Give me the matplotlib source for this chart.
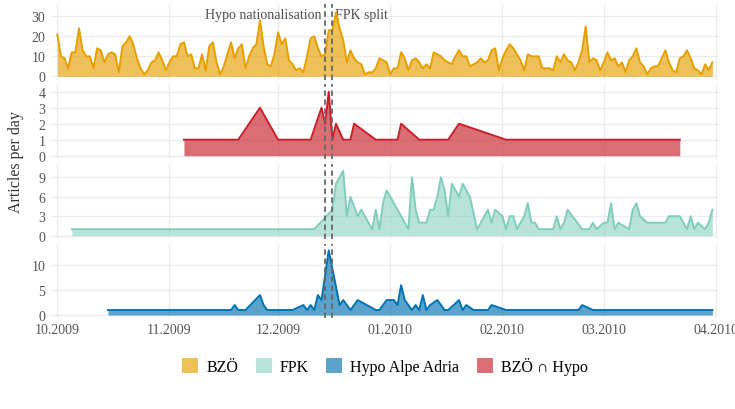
import pandas as pd
import matplotlib
matplotlib.use('Agg')
import matplotlib.pyplot as plt
import matplotlib.dates as mdates
from matplotlib.patches import Patch

plt.rcParams['font.family'] = ['Liberation Serif', 'DejaVu Serif']

# BZÖ: daily article counts from 1 Oct 2009 to 31 Mar 2010
bzoe_start = '2009-10-01'
bzoe_values = [21, 10, 9, 4, 12, 12, 24, 13, 10, 10, 4, 14, 13, 7, 11, 12, 11, 2, 15, 17,
               20, 16, 9, 4, 1, 3, 7, 8, 12, 8, 3, 7, 10, 10, 16, 17, 10, 11, 4, 4,
               11, 3, 15, 17, 7, 1, 5, 11, 17, 9, 14, 16, 4, 10, 14, 16, 28, 15, 6, 5,
               11, 22, 16, 19, 8, 6, 3, 4, 2, 10, 19, 20, 14, 10, 11, 23, 23, 32, 24, 18,
               7, 13, 9, 7, 6, 1, 2, 2, 4, 9, 8, 7, 1, 4, 4, 12, 9, 3, 8, 9,
               7, 4, 6, 4, 12, 11, 10, 8, 7, 6, 10, 13, 10, 10, 5, 6, 7, 9, 7, 8,
               13, 14, 3, 9, 13, 16, 14, 11, 8, 3, 11, 10, 10, 10, 4, 4, 4, 3, 10, 7,
               11, 8, 7, 3, 7, 13, 25, 7, 9, 8, 3, 7, 12, 8, 9, 5, 7, 2, 8, 10,
               14, 7, 5, 1, 4, 5, 5, 9, 13, 7, 3, 2, 9, 10, 13, 9, 4, 3, 1, 6,
               3, 7]

# BZÖ ∩ Hypo
both_dates = ['2009-11-05', '2009-11-20', '2009-11-26', '2009-12-01', '2009-12-10',
              '2009-12-13', '2009-12-14', '2009-12-15', '2009-12-16', '2009-12-17',
              '2009-12-19', '2009-12-21', '2009-12-22', '2009-12-28', '2010-01-03',
              '2010-01-04', '2010-01-09', '2010-01-17', '2010-01-20', '2010-02-02',
              '2010-03-22']
both_values = [1, 1, 3, 1, 1, 3, 2, 4, 1, 2, 1, 1, 2, 1, 1, 2, 1, 1, 2, 1, 1]

# FPK
fpk_dates = ['2009-10-05', '2009-12-11', '2009-12-16', '2009-12-17', '2009-12-19',
             '2009-12-20', '2009-12-21', '2009-12-23', '2009-12-24', '2009-12-27',
             '2009-12-28', '2009-12-29', '2009-12-30', '2009-12-31', '2010-01-06',
             '2010-01-07', '2010-01-08', '2010-01-09', '2010-01-11', '2010-01-12',
             '2010-01-13', '2010-01-14', '2010-01-15', '2010-01-16', '2010-01-17',
             '2010-01-18', '2010-01-20', '2010-01-21', '2010-01-23', '2010-01-25',
             '2010-01-28', '2010-01-29', '2010-01-30', '2010-02-01', '2010-02-02',
             '2010-02-03', '2010-02-04', '2010-02-05', '2010-02-07', '2010-02-08',
             '2010-02-09', '2010-02-10', '2010-02-11', '2010-02-15', '2010-02-16',
             '2010-02-17', '2010-02-18', '2010-02-19', '2010-02-23', '2010-02-25',
             '2010-02-26', '2010-02-27', '2010-03-01', '2010-03-02', '2010-03-03',
             '2010-03-04', '2010-03-05', '2010-03-08', '2010-03-09', '2010-03-10',
             '2010-03-11', '2010-03-13', '2010-03-18', '2010-03-19', '2010-03-22',
             '2010-03-24', '2010-03-25', '2010-03-26', '2010-03-27', '2010-03-29',
             '2010-03-30', '2010-03-31']
fpk_values = [1, 1, 4, 8, 10, 3, 6, 3, 4, 1, 4, 1, 5, 7, 1, 9, 4, 2, 2, 4,
              4, 6, 9, 7, 3, 8, 6, 8, 6, 1, 4, 2, 4, 3, 1, 3, 3, 1, 3, 5,
              2, 2, 1, 1, 3, 1, 2, 4, 1, 1, 2, 1, 2, 2, 5, 1, 2, 1, 4, 5,
              3, 2, 2, 3, 3, 1, 3, 1, 2, 1, 2, 4]

# Hypo Alpe Adria
hypo_dates = ['2009-10-15', '2009-11-18', '2009-11-19', '2009-11-20', '2009-11-22',
              '2009-11-26', '2009-11-27', '2009-11-28', '2009-12-05', '2009-12-08',
              '2009-12-09', '2009-12-10', '2009-12-11', '2009-12-12', '2009-12-13',
              '2009-12-15', '2009-12-18', '2009-12-19', '2009-12-21', '2009-12-23',
              '2009-12-28', '2009-12-29', '2009-12-31', '2010-01-02', '2010-01-03',
              '2010-01-04', '2010-01-05', '2010-01-07', '2010-01-08', '2010-01-09',
              '2010-01-10', '2010-01-11', '2010-01-12', '2010-01-14', '2010-01-16',
              '2010-01-17', '2010-01-20', '2010-01-21', '2010-01-22', '2010-01-24',
              '2010-01-28', '2010-01-29', '2010-02-02', '2010-02-22', '2010-02-23',
              '2010-02-26', '2010-03-31']
hypo_values = [1, 1, 2, 1, 1, 4, 2, 1, 1, 2, 1, 2, 1, 4, 3, 13, 2, 3, 1, 3,
               1, 1, 3, 3, 2, 6, 3, 1, 2, 1, 4, 1, 2, 3, 1, 1, 3, 1, 2, 1,
               1, 2, 1, 1, 2, 1, 1]

events = ['2009-12-14', '2009-12-16']
event_labels = ['Hypo nationalisation', 'FPK split']

month_ticks = pd.date_range('2009-10-01', '2010-04-01', freq='MS')

colors = {'BZÖ': '#E69F00', 'FPK': '#7FCDBB', 'Hypo Alpe Adria': '#0072B2',
          'BZÖ ∩ Hypo': '#C8202A'}

panels = [
    ('BZÖ', pd.date_range(bzoe_start, periods=len(bzoe_values), freq='D'), bzoe_values,
     [0, 10, 20, 30], (5, 81, 77.3, 2.0)),
    ('BZÖ ∩ Hypo', pd.to_datetime(both_dates), both_values,
     [0, 1, 2, 3, 4], (85, 160, 156.7, 16.0)),
    ('FPK', pd.to_datetime(fpk_dates), fpk_values,
     [0, 3, 6, 9], (165, 240, 236.7, 6.49)),
    ('Hypo Alpe Adria', pd.to_datetime(hypo_dates), hypo_values,
     [0, 5, 10], (245, 319, 316.0, 4.97)),
]

W, H = 735, 410
fig = plt.figure(figsize=(7.35, 4.1), dpi=100)

x0 = mdates.date2num(pd.Timestamp('2009-10-01')) - 1.74
x1 = mdates.date2num(pd.Timestamp('2010-04-01')) + 0.55
fill_alpha = {'BZÖ': 0.65, 'FPK': 0.55, 'Hypo Alpe Adria': 0.65, 'BZÖ ∩ Hypo': 0.65}

axes = []
for i, (name, x, y, yticks, (top, bottom, zero_px, ppu)) in enumerate(panels):
    ax = fig.add_axes([51 / W, 1 - bottom / H, 667 / W, (bottom - top) / H])
    ax.fill_between(x, 0, y, color=colors[name], alpha=fill_alpha[name], lw=0, zorder=2)
    ax.plot(x, y, color=colors[name], lw=1.4, zorder=3)
    ax.set_xlim(x0, x1)
    ax.set_ylim(-(bottom - zero_px) / ppu, (zero_px - top) / ppu)
    ax.set_yticks(yticks)
    ax.set_xticks(month_ticks)
    ax.grid(True, color='#EBEBEB', lw=0.9, zorder=0)
    ax.set_axisbelow(True)
    for s in ax.spines.values():
        s.set_visible(False)
    ax.tick_params(length=0, labelsize=10, labelcolor='#555555', pad=4)
    for ev in events:
        ax.axvline(pd.Timestamp(ev), color='#666666', lw=1.3, ls=(0, (3, 2)), zorder=4)
    if i < 3:
        ax.tick_params(labelbottom=False)
    else:
        ax.xaxis.set_major_formatter(mdates.DateFormatter('%m.%Y'))
        ax.tick_params(axis='x', pad=3.5)
    axes.append(ax)

# event labels in the top panel
axes[0].annotate(event_labels[0], xy=(pd.Timestamp(events[0]), 0.86), xycoords=('data', 'axes fraction'),
                 xytext=(-2.5, 0), textcoords='offset points', ha='right', va='center',
                 fontsize=10, color='#4D4D4D', zorder=1)
axes[0].annotate(event_labels[1], xy=(pd.Timestamp(events[1]), 0.86), xycoords=('data', 'axes fraction'),
                 xytext=(2, 0), textcoords='offset points', ha='left', va='center',
                 fontsize=10, color='#4D4D4D', zorder=1)

fig.text(16 / W, 1 - 162 / H, 'Articles per day', rotation=90, ha='center', va='center',
         fontsize=11.5, color='#333333')

order = ['BZÖ', 'FPK', 'Hypo Alpe Adria', 'BZÖ ∩ Hypo']
handles = [Patch(facecolor=colors[n], alpha=fill_alpha[n], edgecolor='none') for n in order]
fig.legend(handles, order, loc='center', bbox_to_anchor=(385 / W, 1 - 367 / H), ncol=4,
           frameon=False, fontsize=11.5, handlelength=1.0, handleheight=1.0,
           handletextpad=0.5, columnspacing=1.1)

fig.savefig('out.png', dpi=100, facecolor='white')
